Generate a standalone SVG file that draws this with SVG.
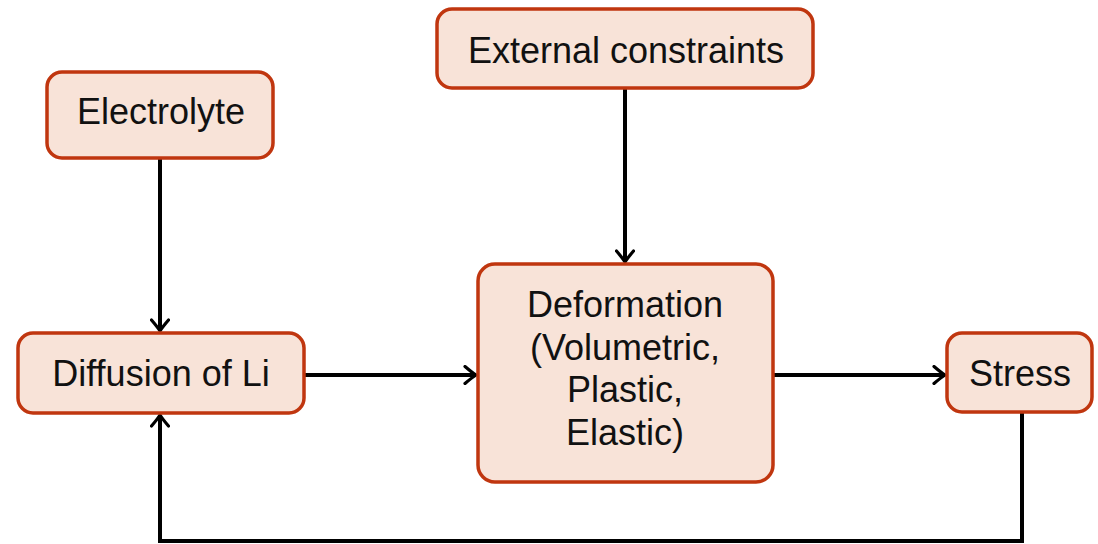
<svg xmlns="http://www.w3.org/2000/svg" width="1098" height="544" viewBox="0 0 1098 544">
<defs>
<marker id="arr" viewBox="-14 -10 16 20" markerWidth="16" markerHeight="20" refX="0" refY="0" orient="auto" markerUnits="userSpaceOnUse">
<path d="M-11,-8.5 Q-4,-2.5 0,0 Q-4,2.5 -11,8.5" fill="none" stroke="#000" stroke-width="3.2" stroke-linecap="round"/>
</marker>
</defs>
<style>
.box{fill:#f8e3d8;stroke:#c0360f;stroke-width:3.5}
.t{font-family:"Liberation Sans",Arial,sans-serif;font-size:36px;fill:#111;text-anchor:middle}
.c{fill:none;stroke:#000;stroke-width:4}
</style>
<rect width="1098" height="544" fill="#fff"/>
<g id="connectors">
<path class="c" d="M160,158 V331" marker-end="url(#arr)"/>
<path class="c" d="M625,88 V262" marker-end="url(#arr)"/>
<path class="c" d="M304,375 H476" marker-end="url(#arr)"/>
<path class="c" d="M773,375 H945" marker-end="url(#arr)"/>
<path class="c" d="M1022,412 V541 H160 V415" marker-end="url(#arr)"/>
</g>
<g id="electrolyte">
<rect class="box" x="47" y="72" width="226" height="86" rx="15"/>
<text class="t" x="161" y="124">Electrolyte</text>
</g>
<g id="external">
<rect class="box" x="437" y="9" width="376" height="79" rx="15"/>
<text class="t" x="626" y="63">External constraints</text>
</g>
<g id="diffusion">
<rect class="box" x="18" y="333" width="286" height="80" rx="15"/>
<text class="t" x="161" y="386">Diffusion of Li</text>
</g>
<g id="deformation">
<rect class="box" x="478" y="264" width="295" height="218" rx="17"/>
<text class="t" x="625" y="317">Deformation</text>
<text class="t" x="625" y="360">(Volumetric,</text>
<text class="t" x="625" y="402">Plastic,</text>
<text class="t" x="625" y="445">Elastic)</text>
</g>
<g id="stress">
<rect class="box" x="947" y="333" width="145" height="79" rx="15"/>
<text class="t" x="1020" y="386">Stress</text>
</g>
</svg>
